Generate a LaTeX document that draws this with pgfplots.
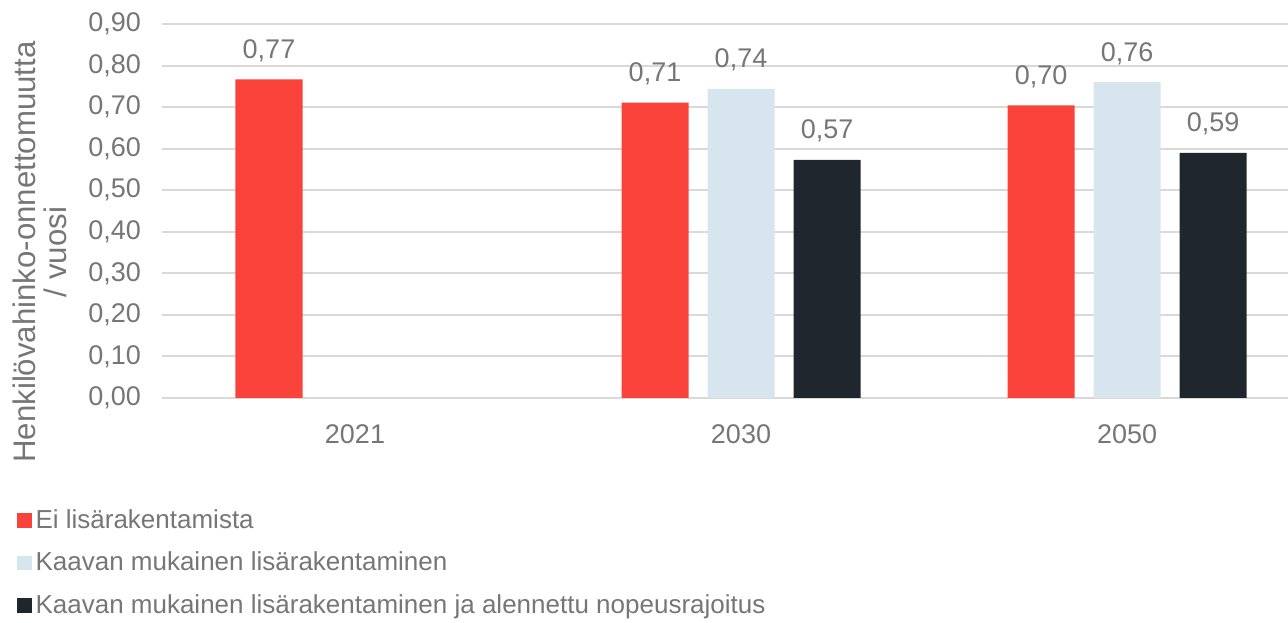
\documentclass[border=0pt]{standalone}
\usepackage{fontspec}
\setmainfont{Liberation Sans}
\usepackage{pgfplots}
\pgfplotsset{compat=1.18}
\definecolor{cred}{RGB}{249,66,58}
\definecolor{clight}{RGB}{215,229,239}
\definecolor{cdark}{RGB}{31,38,45}
\definecolor{ctext}{RGB}{118,118,118}
\definecolor{cgrid}{RGB}{217,217,217}
\begin{document}
\begin{tikzpicture}
\begin{axis}[
  name=ax,
  scale only axis,
  width=563pt, height=187pt,
  xmin=-0.5, xmax=2.417,
  ymin=0, ymax=0.9,
  ytick={0,0.1,...,0.9},
  xtick={0,1,2}, xticklabels={2021,2030,2050},
  major tick length=0pt,
  axis lines*=left,
  x axis line style={draw=cgrid, line width=1pt, -},
  y axis line style={draw=none, -},
  ymajorgrids, grid style={draw=cgrid, line width=1pt},
  /pgf/number format/assume math mode=true,
  yticklabel style={/pgf/number format/fixed, /pgf/number format/fixed zerofill, /pgf/number format/precision=2, /pgf/number format/use comma, xshift=-7pt},
  scaled y ticks=false,
  tick label style={font=\fontsize{13.5}{16}\selectfont, text=ctext},
  xticklabel style={yshift=-10pt},
  ybar, bar width=0.1736,
  nodes near coords={\pgfmathprintnumber[assume math mode=true,fixed,fixed zerofill,precision=2,use comma]{\pgfplotspointmeta}},
  nodes near coords style={font=\fontsize{13.5}{16}\selectfont, text=ctext, anchor=base, yshift=10.5pt, inner sep=0pt},
  legend cell align=left,
  legend style={draw=none, fill=none, at={(-0.129,-0.287)}, anchor=north west,
    font=\fontsize{13}{15.6}\selectfont, text=ctext, row sep=6.3pt, inner sep=0pt},
  legend image code/.code={\fill[#1] (0pt,-3.6pt) rectangle (7.2pt,3.6pt);},
]
\addplot[fill=cred, draw=none, bar shift=-0.2228] coordinates {(0,0.767) (1,0.711) (2,0.704)};
\addlegendentry{Ei lisärakentamista}
\addplot[fill=clight, draw=none, bar shift=0] coordinates {(1,0.744) (2,0.760)};
\addlegendentry{Kaavan mukainen lisärakentaminen}
\addplot[fill=cdark, draw=none, bar shift=0.2228] coordinates {(1,0.573) (2,0.590)};
\addlegendentry{Kaavan mukainen lisärakentaminen ja alennettu nopeusrajoitus}
\end{axis}
\node[rotate=90, align=center, text=ctext, font=\fontsize{15.6}{15.5}\selectfont, anchor=center]
  at ([xshift=-61pt, yshift=73pt]ax.south west) {Henkilövahinko-onnettomuutta\\/ vuosi};
\pgfresetboundingbox
\path ([xshift=-81pt, yshift=-112.5pt]ax.south west) rectangle ([yshift=12pt]ax.north east);
\end{tikzpicture}
\end{document}
